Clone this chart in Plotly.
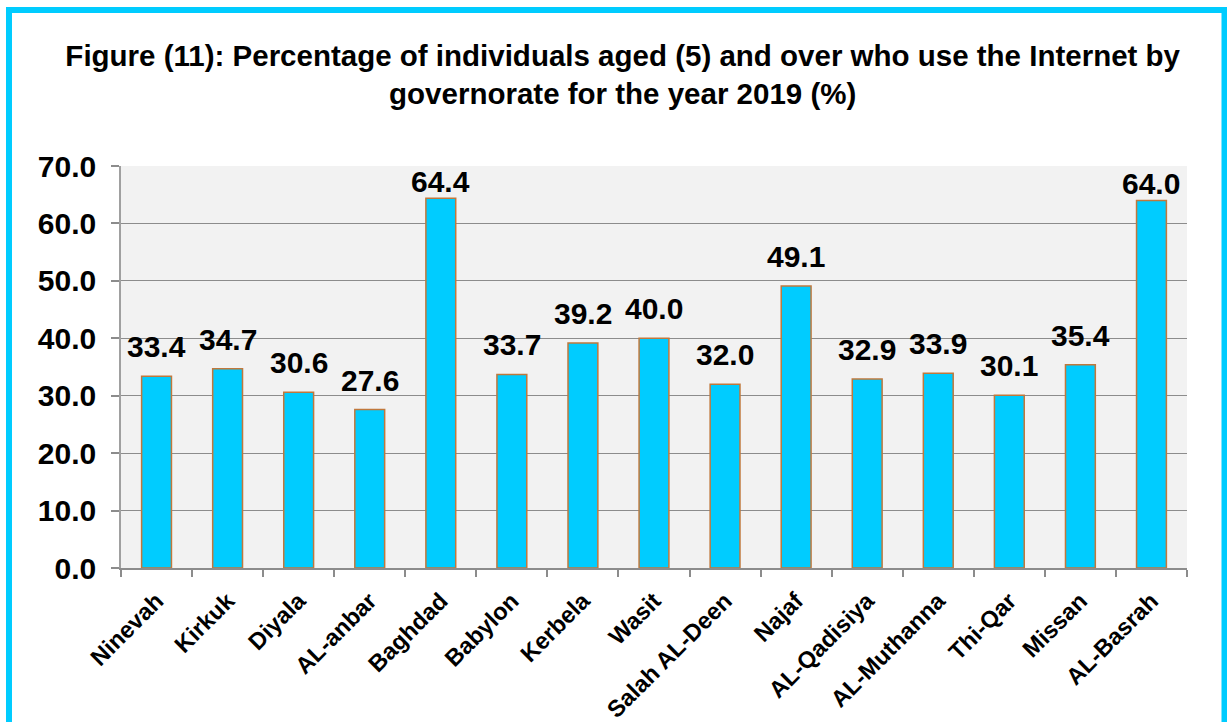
import plotly.graph_objects as go

categories = ["Ninevah", "Kirkuk", "Diyala", "AL-anbar", "Baghdad", "Babylon", "Kerbela",
              "Wasit", "Salah AL-Deen", "Najaf", "AL-Qadisiya", "AL-Muthanna", "Thi-Qar",
              "Missan", "AL-Basrah"]
values = [33.4, 34.7, 30.6, 27.6, 64.4, 33.7, 39.2, 40.0, 32.0, 49.1, 32.9, 33.9, 30.1, 35.4, 64.0]
y_ticks = [0, 10, 20, 30, 40, 50, 60, 70]
title_text = ("Figure (11): Percentage of individuals aged (5) and over who use the Internet by<br>"
              "governorate for the year 2019 (%)")

FONT = "Arial, Liberation Sans, sans-serif"

fig = go.Figure()
fig.add_trace(go.Bar(
    x=categories, y=values,
    marker=dict(color="#00ccff", line=dict(color="#c0783c", width=1.5)),
    hoverinfo="x+y",
))

annotations = []
for c, v in zip(categories, values):
    annotations.append(dict(
        x=c, y=v, xref="x", yref="y", text=f"<b>{v:.1f}</b>", showarrow=False,
        yanchor="bottom", xanchor="center",
        yshift=11 if v < 60 else -2,
        font=dict(family=FONT, size=30, color="black"),
    ))

fig.update_layout(
    width=1227, height=722,
    margin=dict(l=121, r=40, t=166, b=154, autoexpand=False),
    paper_bgcolor="white",
    plot_bgcolor="#f2f2f2",
    bargap=0.58,
    showlegend=False,
    title=dict(text=f"<b>{title_text}</b>", x=0.5075, xref="container", xanchor="center",
               y=0.909, yref="container", yanchor="middle",
               font=dict(family=FONT, size=29.5, color="black")),
    annotations=annotations,
    shapes=[dict(type="rect", xref="paper", yref="paper",
                 x0=-0.10507, x1=1.03518, y0=-0.48, y1=1.38806,
                 line=dict(color="#00ccff", width=6), fillcolor="rgba(0,0,0,0)", layer="above")],
)

fig.update_xaxes(
    type="category",
    tickangle=-45,
    tickfont=dict(family=FONT, size=23.5, color="black", weight="bold"),
    ticks="outside", ticklen=7, tickcolor="#8c8c8c", tickwidth=1.5,
    tickson="boundaries",
    showline=True, linecolor="#8c8c8c", linewidth=1.5,
    showgrid=False,
    automargin=False,
    ticklabelstandoff=8,
)
fig.update_yaxes(
    range=[0, 70],
    tickvals=y_ticks,
    ticktext=[f"{t:.1f}" for t in y_ticks],
    tickfont=dict(family=FONT, size=30, color="black", weight="bold"),
    ticks="outside", ticklen=8, tickcolor="#8c8c8c", tickwidth=1.5,
    showline=True, linecolor="#a0a0a0", linewidth=1.5,
    showgrid=True, gridcolor="#8c8c8c", gridwidth=1.2,
    zeroline=False,
    automargin=False,
    ticklabelstandoff=9,
)

fig.write_html("out.html", config={"displayModeBar": False},
               post_script="document.body.style.margin='0';document.body.style.overflow='hidden';")
